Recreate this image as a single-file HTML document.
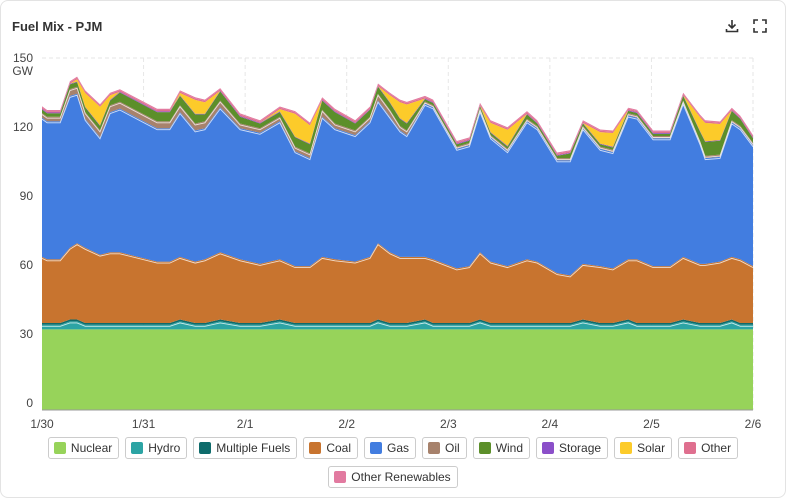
<!DOCTYPE html>
<html><head><meta charset="utf-8"><style>
body{margin:0;background:#fff;font-family:"Liberation Sans",sans-serif;}
#card{position:absolute;left:0;top:0;width:784px;height:496px;border:1px solid #e3e3e3;border-radius:8px;background:#fff;}
#title{position:absolute;left:12px;top:19px;font-size:13px;font-weight:bold;color:#333;}
.legend{position:absolute;left:0;width:786px;display:flex;justify-content:center;gap:6px;font-size:12px;color:#333;}
.li{display:flex;align-items:center;border:1px solid #ccc;border-radius:3px;padding:2px 6px 2px 5px;height:16px;background:#fff;}
.sw{width:12px;height:12px;border-radius:2px;margin-right:5px;}
</style></head><body>
<div id="card"></div>
<div id="title">Fuel Mix - PJM</div>
<svg style="position:absolute;left:724px;top:18px" width="16" height="16"><path d="M8 2v8M4.5 6.5L8 10l3.5-3.5M2.5 11v2.5h11V11" stroke="#333" stroke-width="1.6" fill="none"/></svg>
<svg style="position:absolute;left:752px;top:18px" width="16" height="16"><path d="M2 6V2h4M10 2h4v4M14 10v4h-4M6 14H2v-4" stroke="#333" stroke-width="1.6" fill="none"/></svg>
<svg id="chart" style="position:absolute;left:0;top:0" width="786" height="430"></svg>
<div class="legend" style="top:437px" id="leg1"></div>
<div class="legend" style="top:466px" id="leg2"></div>
<script>
const hours=[0,1.2,4.3,6.6,8.3,10.2,13.7,16.1,18.4,27.2,30.2,32.6,36.2,38.5,42.1,46.8,51.5,56.2,59.8,63.3,66.2,69.2,74,77.5,79.4,82.2,84.6,86.2,90.5,92.4,98,101,103.5,106,110,114.6,117,121.7,124.8,127.8,131.9,134.9,138.5,140.6,144.4,148.4,151.5,155.5,156.7,160.2,163,165,168];
const nuclear=[32,32,32,32,32,32,32,32,32,32,32,32,32,32,32,32,32,32,32,32,32,32,32,32,32,32,32,32,32,32,32,32,32,32,32,32,32,32,32,32,32,32,32,32,32,32,32,32,32,32,32,32,32];
const hydro=[2,2,2,3.5,3.5,2,2,2,2,2,2,3.5,2,2,3.5,2,2,3.5,2,2,2,2,2,2,3.5,2,2,2,3.5,2,2,2,3.5,2,2,2,2,2,2,3.5,2,2,3.5,2,2,2,3.5,2,2,2,3.5,2,2];
const multiFuels=[0.8,0.8,0.8,0.8,0.8,0.8,0.8,0.8,0.8,0.8,0.8,0.8,0.8,0.8,0.8,0.8,0.8,0.8,0.8,0.8,0.8,0.8,0.8,0.8,0.8,0.8,0.8,0.8,0.8,0.8,0.8,0.8,0.8,0.8,0.8,0.8,0.8,0.8,0.8,0.8,0.8,0.8,0.8,0.8,0.8,0.8,0.8,0.8,0.8,0.8,0.8,0.8,0.8];
const coal=[28.7,27.7,27.7,31.2,33.2,32.7,29.7,30.7,30.7,26.7,26.7,27.2,26.7,27.7,29.2,27.7,25.7,26.2,24.7,24.7,28.7,27.7,26.7,28.7,33.2,30.7,28.7,28.7,27.2,27.7,23.7,24.7,29.2,26.7,24.7,27.7,26.7,21.7,20.7,24.2,24.7,23.7,26.2,27.7,24.7,24.7,27.2,25.7,25.7,26.7,27.2,27.7,24.7];
const gas=[60.6,60,60,66,65,56,51,61,62.5,58,58,63,57,57,63,57,57,60,50,47,61,57,55,59,62,59,55,53,66.6,66,52,52.6,61.6,54,50,60,58,49,50,59,51,50.6,62.5,61.6,55.6,55.6,67,52.4,46,45.5,58.5,57,52.6];
const oil=[2,2,2,3,3,3,3,3,3,3,3,3,3,3,3,2,2,2,2,2,3,2,2,2,3,3,2,2,1,1,1,1,1,1,1,1,1,1,1,1,1,1,1,1,1,1,1,1,1,1,1,1,1];
const wind=[1.5,1.5,1.5,2,2,2,2,2,4,4,4,4,4,3,4,3,2,2,4,4,4,5,3,3,3,3,3,3,1,1,1,1,1,1,1,2,1,1,2,1,1,1,1,1,1,1,2,4,6,6,4,3,2];
const storage=[0.3,0.3,0.3,0.3,0.3,0.3,0.3,0.3,0.3,0.3,0.3,0.3,0.3,0.3,0.3,0.3,0.3,0.3,0.3,0.3,0.3,0.3,0.3,0.3,0.3,0.3,0.3,0.3,0.3,0.3,0.3,0.3,0.3,0.3,0.3,0.3,0.3,0.3,0.3,0.3,0.3,0.3,0.3,0.3,0.3,0.3,0.3,0.3,0.3,0.3,0.3,0.3,0.3];
const solar=[0,0,0,0,1,6,8,2,0,0,0,1,6,5,0,0,0,1,10,8,0,0,0,0,0,3,7,8,0,0,0,0,0,4,7,0,0,0,0,0,5,6,0,0,0,0,0,6,8,7,0,0,0];
const other=[0.6,0.6,0.6,0.6,0.6,0.6,0.6,0.6,0.6,0.6,0.6,0.6,0.6,0.6,0.6,0.6,0.6,0.6,0.6,0.6,0.6,0.6,0.6,0.6,0.6,0.6,0.6,0.6,0.6,0.6,0.6,0.6,0.6,0.6,0.6,0.6,0.6,0.6,0.6,0.6,0.6,0.6,0.6,0.6,0.6,0.6,0.6,0.6,0.6,0.6,0.6,0.6,0.6];
const otherRen=[0.5,0.5,0.5,0.5,0.5,0.5,0.5,0.5,0.5,0.5,0.5,0.5,0.5,0.5,0.5,0.5,0.5,0.5,0.5,0.5,0.5,0.5,0.5,0.5,0.5,0.5,0.5,0.5,0.5,0.5,0.5,0.5,0.5,0.5,0.5,0.5,0.5,0.5,0.5,0.5,0.5,0.5,0.5,0.5,0.5,0.5,0.5,0.5,0.5,0.5,0.5,0.5,0.5];
const yTicks=[0,30,60,90,120,150];
const xTickLabels=["1/30","1/31","2/1","2/2","2/3","2/4","2/5","2/6"];
const seriesNames=["Nuclear","Hydro","Multiple Fuels","Coal","Gas","Oil","Wind","Storage","Solar","Other","Other Renewables"];
const seriesColors=["#97d35a","#2ca4a4","#0e6b6b","#c8742f","#427de0","#a7826c","#5c8f2a","#8b4fc9","#fccb2a","#df6f8f","#e27aa0"];
const seriesData=[nuclear,hydro,multiFuels,coal,gas,oil,wind,storage,solar,other,otherRen];

const X0=42,X1=753,Y0=403,Y1=58,AXIS=410;
const xs=h=>X0+(h/168)*(X1-X0);
const ys=v=>Y0-(v/150)*(Y0-Y1);
const NS="http://www.w3.org/2000/svg";
const svg=document.getElementById('chart');
function mk(t,a){const e=document.createElementNS(NS,t);for(const k in a)e.setAttribute(k,a[k]);svg.appendChild(e);return e;}
xTickLabels.forEach((l,i)=>{const x=xs(i*24);
 if(i>0){const g=mk('line',{x1:x,x2:x,y1:Y1,y2:AXIS,stroke:'#e6e6e6','stroke-dasharray':'4,3'});
 
 }
 const t=mk('text',{x:x,y:428,'text-anchor':'middle','font-size':12,fill:'#444'});t.textContent=l;
 
 
});
yTicks.forEach(v=>{const y=ys(v);
 if(v===150){const g=mk('line',{x1:X0,x2:X1,y1:y,y2:y,stroke:'#e6e6e6','stroke-dasharray':'4,3'});
 
 }
 const t=mk('text',{x:33,y:y+4,'text-anchor':'end','font-size':12,fill:'#444'});t.textContent=v;
 
 
});
const gw=mk('text',{x:33,y:ys(150)+17,'text-anchor':'end','font-size':12,fill:'#444'});gw.textContent='GW';


let base=hours.map(()=>0);
const tops=[];
seriesData.forEach((arr,si)=>{
 const top=base.map((b,i)=>b+arr[i]);
 let d='M'+hours.map((h,i)=>xs(h).toFixed(1)+','+ys(top[i]).toFixed(1)).join('L');
 for(let i=hours.length-1;i>=0;i--)d+='L'+xs(hours[i]).toFixed(1)+','+(si===0?AXIS:ys(base[i])).toFixed(1);
 d+='Z';
 const p=mk('path',{d:d,fill:seriesColors[si]});
 
 
 tops.push(top);
 base=top;
});
[1,3,4,5].forEach(si=>{
 const d='M'+hours.map((h,i)=>xs(h).toFixed(1)+','+(ys(tops[si][i])+1.5).toFixed(1)).join('L');
 const l=mk('path',{d:d,fill:'none',stroke:'#fff','stroke-width':0.9,'stroke-opacity':0.75});
 
 
});
const ax=mk('line',{x1:X0,x2:X1,y1:AXIS,y2:AXIS,stroke:'#999'});


seriesNames.forEach((n,i)=>{
 const it=document.createElement('div');it.className='li';
 
 
 it.innerHTML='<span class="sw" style="background:'+seriesColors[i]+'"></span>'+n;
 document.getElementById(i<10?'leg1':'leg2').appendChild(it);
});
</script>
</body></html>
